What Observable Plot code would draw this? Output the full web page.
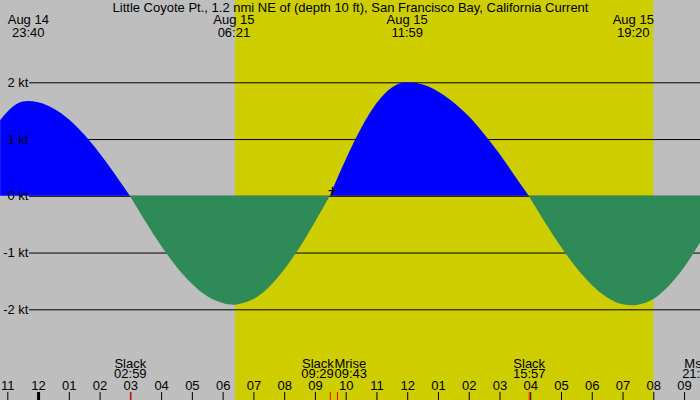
<!DOCTYPE html>
<html><head><meta charset="utf-8">
<script src="https://cdn.jsdelivr.net/npm/d3@7"></script>
<script src="https://cdn.jsdelivr.net/npm/@observablehq/plot@0.6"></script>
<style>body{margin:0;background:#bebebe;overflow:hidden}</style>
</head><body><div id="chart"></div>
<script>
const title = "Little Coyote Pt., 1.2 nmi NE of (depth 10 ft), San Francisco Bay, California Current";
const flowTimes = ["08-14 22:46","08-14 23:00","08-14 23:30","08-14 23:40","08-15 00:00","08-15 00:30","08-15 01:00","08-15 01:30","08-15 02:00","08-15 02:30","08-15 02:59","08-15 03:30","08-15 04:00","08-15 04:30","08-15 05:00","08-15 05:30","08-15 06:00","08-15 06:21","08-15 06:30","08-15 07:00","08-15 07:30","08-15 08:00","08-15 08:30","08-15 09:00","08-15 09:29","08-15 10:00","08-15 10:30","08-15 11:00","08-15 11:30","08-15 11:59","08-15 12:30","08-15 13:00","08-15 13:30","08-15 14:00","08-15 14:30","08-15 15:00","08-15 15:30","08-15 15:57","08-15 16:30","08-15 17:00","08-15 17:30","08-15 18:00","08-15 18:30","08-15 19:00","08-15 19:20","08-15 19:30","08-15 20:00","08-15 20:30","08-15 21:00","08-15 21:32"];
const flowKnots = [1.33,1.48,1.66,1.67,1.65,1.54,1.35,1.08,0.75,0.38,0,-0.46,-0.88,-1.25,-1.55,-1.77,-1.89,-1.92,-1.91,-1.82,-1.61,-1.30,-0.91,-0.46,0,0.64,1.19,1.63,1.91,2.00,1.96,1.84,1.65,1.40,1.09,0.74,0.35,0,-0.49,-0.90,-1.27,-1.57,-1.79,-1.91,-1.93,-1.92,-1.82,-1.59,-1.26,-0.81];
const maxTimes = ["08-14 23:40","08-15 06:21","08-15 11:59","08-15 19:20"];
const eventNames = ["Slack","Slack","Mrise","Slack","Mset"];
const eventTimes = ["08-15 02:59","08-15 09:29","08-15 09:43","08-15 15:57","08-15 21:27"];
const eventTicked = [true,true,true,true,false];
const eventAnchor = ["middle","end","start","middle","middle"];
const daylight = ["08-15 06:24","08-15 20:00"];
const knotTicks = [2,1,0,-1,-2];
const nowTime = "08-15 09:33", nowKnots = 0.1;
const hourFirst = "08-14 23:00", hourLast = "08-15 22:00";
const xRefTimes = ["08-14 23:00","08-15 20:00"];

const parse = d3.utcParse("%m-%d %H:%M");
const flow = flowTimes.map((t,i)=>({t: parse(t), v: flowKnots[i]}));
// split into runs between slack points (slack points shared by adjacent runs)
const runs = [];
let seg = 0;
flow.forEach((p,i)=>{
  runs.push({...p, seg});
  if (p.v === 0 && i > 0 && i < flow.length-1) { seg++; runs.push({...p, seg}); }
});
const segSign = d3.rollup(runs, g => Math.sign(d3.sum(g, d=>d.v)), d=>d.seg);
const flood = runs.filter(d => segSign.get(d.seg) > 0);
const ebb = runs.filter(d => segSign.get(d.seg) < 0);

const maxes = maxTimes.map(t=>parse(t));
const events = eventNames.map((n,i)=>({name:n, t: parse(eventTimes[i]), ticked: eventTicked[i], anchor: eventAnchor[i]}));
const hours = d3.utcHour.range(parse(hourFirst), parse(hourLast));
const fmtDate = d3.utcFormat("%b %d"), fmtTime = d3.utcFormat("%H:%M"), fmtHour = d3.utcFormat("%I");
const F = "Liberation Sans";
const FS = 13;
const T = {fontSize: FS, fill: "black", lineAnchor: "middle"};

const eventLabelMarks = [["middle",0],["end",3.5],["start",-3]].flatMap(([a,dx]) => {
  const sub = events.filter(e=>e.anchor===a);
  return [
    Plot.text(sub, {x: "t", text: "name", frameAnchor: "bottom", dy: -37.1, dx, textAnchor: a, ...T}),
    Plot.text(sub, {x: "t", text: d=>fmtTime(d.t), frameAnchor: "bottom", dy: -26.8, dx, textAnchor: a, ...T})
  ];
});

const chart = Plot.plot({
  width: 700, height: 400,
  marginTop: 0, marginBottom: 0, marginLeft: 0, marginRight: 0,
  style: {background: "#bebebe", fontFamily: F, fontSize: FS + "px", color: "black"},
  x: {type: "utc", domain: xRefTimes.map(parse), range: [7.3, 653.3], axis: null},
  y: {domain: [-2, 2], range: [309.3, 82.3], axis: null},
  marks: [
    Plot.rect([daylight], {x1: d=>parse(d[0]), x2: d=>parse(d[1]), fill: "#cdcd00"}),
    Plot.ruleY(knotTicks.filter(k=>k!==0), {y: d=>d, stroke: "black", insetLeft: 29}),
    Plot.areaY(flood, {x: "t", y: "v", z: "seg", fill: "#0000ff", curve: "monotone-x"}),
    Plot.ruleY([0], {stroke: "black", insetLeft: 29}),
    Plot.areaY(ebb, {x: "t", y: "v", z: "seg", fill: "#2e8b57", curve: "monotone-x"}),
    Plot.text(knotTicks, {y: d=>d, text: d=>`${d} kt`, frameAnchor: "left", dx: 28, textAnchor: "end", ...T}),
    Plot.text([nowTime], {x: d=>parse(d), y: ()=>nowKnots, text: ()=>"+", ...T, fontSize: 16}),
    Plot.text([title], {text: d=>d, frameAnchor: "top", dy: 7.4, ...T}),
    Plot.text(maxes, {x: d=>d, text: d=>fmtDate(d), frameAnchor: "top", dy: 19.2, ...T}),
    Plot.text(maxes, {x: d=>d, text: d=>fmtTime(d), frameAnchor: "top", dy: 31.9, ...T}),
    ...eventLabelMarks,
    Plot.text(hours, {x: d=>d, text: d=>fmtHour(d), frameAnchor: "bottom", dy: -14.4, ...T}),
    Plot.ruleX(hours, {x: d=>d, stroke: "black", strokeWidth: d=>d.getUTCHours()===0 ? 3 : 1, insetTop: 392}),
    Plot.ruleX(events.filter(e=>e.ticked), {x: "t", stroke: "red", insetTop: 392})
  ]
});
document.getElementById("chart").appendChild(chart);
</script>
</body></html>
